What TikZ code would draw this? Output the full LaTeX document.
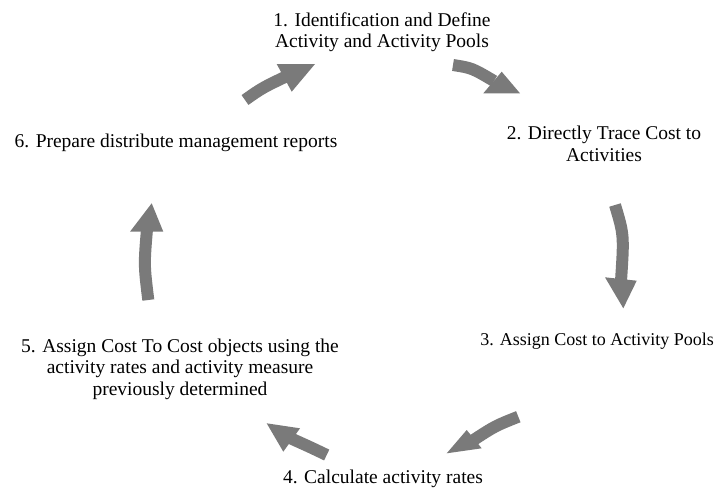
\documentclass[tikz,border=0pt]{standalone}
\usepackage{fontspec}
\setmainfont{Liberation Serif}
\definecolor{arrgray}{RGB}{122,122,122}
\begin{document}
\begin{tikzpicture}[x=1pt,y=-1pt,
  lbl/.style={font=\fontsize{19.5}{21.5}\selectfont, align=center, inner sep=0pt},
  shaft/.style={draw=arrgray, line width=12pt},
  head/.style={fill=arrgray}]
\useasboundingbox (0,0) rectangle (718,491);
% labels
\node[lbl] (n1) at (382,32) {1. Identification and Define\\Activity and Activity Pools};
\node[lbl] (n2) at (604,144) {2. Directly Trace Cost to\\Activities};
\node[lbl, font=\fontsize{18}{21.5}\selectfont, anchor=east] (n3) at (714,341) {3. Assign Cost to Activity Pools};
\node[lbl] (n4) at (383,479) {4. Calculate activity rates};
\node[lbl] (n5) at (180,369) {5. Assign Cost To Cost objects using the\\activity rates and activity measure\\previously determined};
\node[lbl] (n6) at (176,143) {6. Prepare distribute management reports};
% arrow 6 -> 1
\draw[shaft] (245,100) .. controls (262,88) .. (287,76);
\fill[head] (276.7,64) -- (315,64) -- (291.7,91.7) -- cycle;
% arrow 1 -> 2
\draw[shaft] (453,65) .. controls (472,68) .. (494,81);
\fill[head] (501.7,71.7) -- (520,93.3) -- (483.3,93.3) -- cycle;
% arrow 2 -> 3
\draw[shaft] (615,205) .. controls (624,235) .. (621,281);
\fill[head] (605,277.3) -- (636.7,280.7) -- (623.3,308.3) -- cycle;
% arrow 3 -> 4
\draw[shaft] (518.3,416.7) .. controls (495,426) .. (472,441);
\fill[head] (466.7,430) -- (481.7,448.3) -- (446.7,453.3) -- cycle;
% arrow 4 -> 5
\draw[shaft] (326.7,455) .. controls (310,447) .. (290,438);
\fill[head] (300,428.3) -- (283.3,451.7) -- (266.7,423.3) -- cycle;
% arrow 5 -> 6
\draw[shaft] (148.3,300) .. controls (144,265) .. (147,229);
\fill[head] (130,231.7) -- (163.3,231.7) -- (151.7,203.3) -- cycle;
\end{tikzpicture}
\end{document}
